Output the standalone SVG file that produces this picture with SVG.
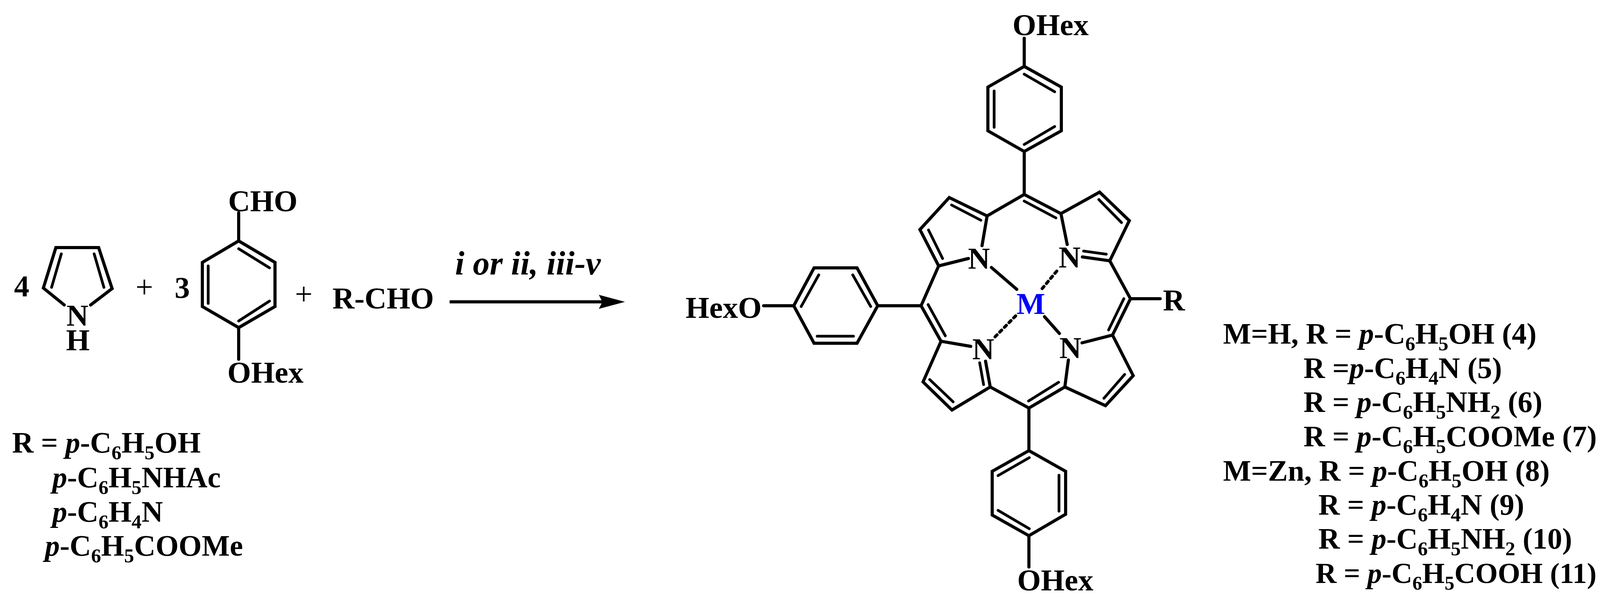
<svg xmlns="http://www.w3.org/2000/svg" width="4127" height="1534" viewBox="0 0 4127 1534">
<defs>
<style>
text{font-family:"Liberation Serif","Times New Roman",serif;font-weight:700;font-size:78px;fill:#000}
.l{font-size:76px}
.p{font-style:italic}
.s{font-size:51px}
.o{font-weight:400;font-size:80px}
.b{fill:none;stroke:#000;stroke-width:8;stroke-linejoin:miter;stroke-linecap:round}
.i{fill:none;stroke:#000;stroke-width:7;stroke-linecap:round}
.d{stroke-dasharray:7 10;stroke-linecap:round;stroke-width:8}
</style>
</defs>
<rect width="4127" height="1534" fill="#fff"/>
<g id="pyrrole">
<text x="36" y="759">4</text>
<path class="b" d="M164.500 781L111 737.500L143 634H252.500L287 739L232 781"/>
<path class="i" d="M157 650L132 736M241 650L266 736"/>
<text x="170" y="834">N</text>
<text x="169" y="897">H</text>
</g>
<g id="plus1"><text class="o" x="347" y="762">+</text></g>
<g id="coeff3"><text x="447" y="763">3</text></g>
<g id="aldehyde">
<path class="b" d="M611 617L704 672V785L611 839L518 785V672ZM611 617V545M611 839V920"/>
<path class="i" d="M533 681V777M611 637L690 686M611 822L690 771"/>
<text x="584" y="541">CHO</text>
<text x="582" y="980">OHex</text>
</g>
<g id="plus2"><text class="o" x="755" y="780">+</text></g>
<g id="rcho"><text x="851" y="790">R-CHO</text></g>
<g id="connectors">
<path d="M1151 773H1545" stroke="#000" stroke-width="8" fill="none"/>
<path d="M1600 773L1533 755L1542 773L1533 791Z" fill="#000"/>
</g>
<g id="conditions"><text class="p" x="1165" y="703" style="font-size:86px">i or ii, iii-v</text></g>
<g id="porphyrin">
<path class="b" d="M2622 98V170M2622 170L2717 223V335L2622 388L2529 335V223ZM2622 388V498"/>
<path class="i" d="M2622 190L2700 235M2622 370L2700 324M2545 233V326"/>
<text x="2592" y="90">OHex</text>
<path class="b" d="M2622 498L2527 553L2430 506L2355 588L2403 681L2479 662M2527 553L2514 629"/>
<path class="b" d="M2622 498L2716 547L2815 492L2891 565L2841 668L2771 658M2716 547L2732 626"/>
<path class="i" d="M2436 525L2511 564M2377 589L2413 662M2622 515L2703 558M2813 511L2871 570M2774 643L2832 651"/>
<path class="b" d="M2403 681L2358 783L2409 874L2485 887M2358 783H2247"/>
<path class="b" d="M2841 668L2894 765L2848 858L2770 878M2894 765H2970"/>
<path class="i" d="M2376 780L2420 860M2877 765L2838 845"/>
<path class="b" d="M2409 874L2363 978L2437 1050L2535 991L2523 925M2535 991L2634 1045L2726 991L2735 922M2726 991L2830 1039L2901 962L2848 858"/>
<path class="i" d="M2380 972L2440 1029M2518 985L2508 929M2710 979L2633 1027M2879 959L2826 1020"/>
<path class="b" d="M2247 783L2194 686H2084L2032 783L2084 879H2194ZM2032 783H1955"/>
<path class="i" d="M2096 704L2051 785M2183 704L2229 785M2092 861H2185"/>
<text x="1755" y="814">HexO</text>
<path class="b" d="M2634 1045V1154M2634 1154L2728 1207V1317L2634 1372L2540 1319V1207ZM2634 1372V1452"/>
<path class="i" d="M2555 1218L2635 1172M2555 1307L2635 1354M2711 1217V1309"/>
<text x="2604" y="1512">OHex</text>
<text x="2977" y="795">R</text>
<text x="2478" y="688">N</text>
<text x="2710" y="685">N</text>
<text x="2489" y="920">N</text>
<text x="2712" y="917">N</text>
<text x="2602" y="804" style="fill:#0000ff">M</text>
<path class="b" d="M2538 685L2603 741M2674 811L2712 854"/>
<path class="b d" d="M2668 739L2708 691M2600 809L2547 863"/>
</g>
<g id="r-list-left">
<text class="l" x="31" y="1159">R = <tspan class="p">p</tspan>-C<tspan class="s" dy="17">6</tspan><tspan dy="-17">H</tspan><tspan class="s" dy="17">5</tspan><tspan dy="-17">OH</tspan></text>
<text class="l" x="134" y="1248"><tspan class="p">p</tspan>-C<tspan class="s" dy="17">6</tspan><tspan dy="-17">H</tspan><tspan class="s" dy="17">5</tspan><tspan dy="-17">NHAc</tspan></text>
<text class="l" x="134" y="1336"><tspan class="p">p</tspan>-C<tspan class="s" dy="17">6</tspan><tspan dy="-17">H</tspan><tspan class="s" dy="17">4</tspan><tspan dy="-17">N</tspan></text>
<text class="l" x="115" y="1423"><tspan class="p">p</tspan>-C<tspan class="s" dy="17">6</tspan><tspan dy="-17">H</tspan><tspan class="s" dy="17">5</tspan><tspan dy="-17">COOMe</tspan></text>
</g>
<g id="r-list-right">
<text class="l" x="3131" y="880">M=H, R = <tspan class="p">p</tspan>-C<tspan class="s" dy="17">6</tspan><tspan dy="-17">H</tspan><tspan class="s" dy="17">5</tspan><tspan dy="-17">OH (4)</tspan></text>
<text class="l" x="3337" y="968">R =<tspan class="p">p</tspan>-C<tspan class="s" dy="17">6</tspan><tspan dy="-17">H</tspan><tspan class="s" dy="17">4</tspan><tspan dy="-17">N (5)</tspan></text>
<text class="l" x="3337" y="1055">R = <tspan class="p">p</tspan>-C<tspan class="s" dy="17">6</tspan><tspan dy="-17">H</tspan><tspan class="s" dy="17">5</tspan><tspan dy="-17">NH</tspan><tspan class="s" dy="17">2</tspan><tspan dy="-17"> (6)</tspan></text>
<text class="l" x="3337" y="1143">R = <tspan class="p">p</tspan>-C<tspan class="s" dy="17">6</tspan><tspan dy="-17">H</tspan><tspan class="s" dy="17">5</tspan><tspan dy="-17">COOMe (7)</tspan></text>
<text class="l" x="3131" y="1231">M=Zn, R = <tspan class="p">p</tspan>-C<tspan class="s" dy="17">6</tspan><tspan dy="-17">H</tspan><tspan class="s" dy="17">5</tspan><tspan dy="-17">OH (8)</tspan></text>
<text class="l" x="3375" y="1318">R = <tspan class="p">p</tspan>-C<tspan class="s" dy="17">6</tspan><tspan dy="-17">H</tspan><tspan class="s" dy="17">4</tspan><tspan dy="-17">N (9)</tspan></text>
<text class="l" x="3375" y="1405">R = <tspan class="p">p</tspan>-C<tspan class="s" dy="17">6</tspan><tspan dy="-17">H</tspan><tspan class="s" dy="17">5</tspan><tspan dy="-17">NH</tspan><tspan class="s" dy="17">2</tspan><tspan dy="-17"> (10)</tspan></text>
<text x="3368" y="1493" style="font-size:74px">R = <tspan class="p">p</tspan>-C<tspan class="s" dy="17" style="font-size:50px">6</tspan><tspan dy="-17">H</tspan><tspan class="s" dy="17" style="font-size:50px">5</tspan><tspan dy="-17">COOH (11)</tspan></text>
</g>
</svg>
